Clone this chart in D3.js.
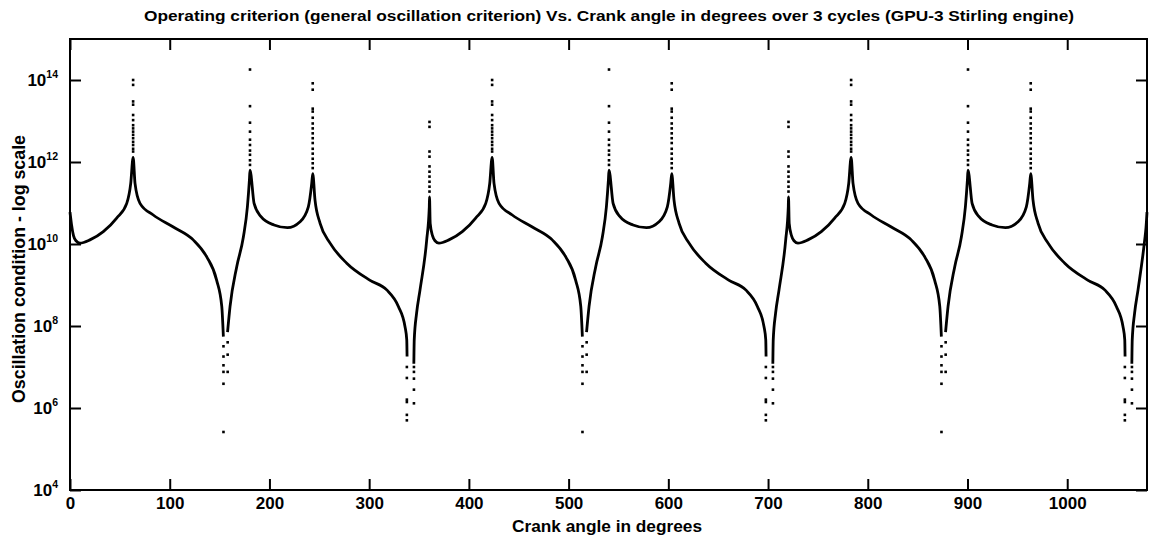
<!DOCTYPE html>
<html>
<head>
<meta charset="utf-8">
<script src="https://cdn.jsdelivr.net/npm/d3@7"></script>
<style>
  body { margin: 0; background: #fff; }
  text { font-family: "Liberation Sans", Arial, sans-serif; font-weight: bold; fill: #000; }
</style>
</head>
<body>
<script>
// solid part of the curve, null = gap at the singular points
const crankAngle = [
  0, 1.5, 3.5, 6, 10, 20, 33.4, 46.8, 56.9, 60.9, 63.3, 65.2, 70.2, 83.5, 103.6, 123.6, 137, 147.1, 152.2, 153.8, null,
  158, 160.5, 167.2, 173.9, 177.9, 179.9, 180.5, 184.6, 191.3, 204.6, 218, 230.7, 239, 242.4, 243.4, 245.7, 250.8, 260.8, 277.5, 300.9, 317.6, 329.3, 336, 337.7, 338, null,
  344.8, 345.2, 347.5, 351, 357.7, 360.3, 360.5, 361.2, 363.5, 366, 370, 380, 393.4, 406.8, 416.9, 420.9, 423.3, 425.2, 430.2, 443.5, 463.6, 483.6, 497, 507.1, 512.2, 513.8, null,
  518, 520.5, 527.2, 533.9, 537.9, 539.9, 540.5, 544.6, 551.3, 564.6, 578, 590.7, 599, 602.4, 603.4, 605.7, 610.8, 620.8, 637.5, 660.9, 677.6, 689.3, 696, 697.7, 698, null,
  704.8, 705.2, 707.5, 711, 717.7, 720.3, 720.5, 721.2, 723.5, 726, 730, 740, 753.4, 766.8, 776.9, 780.9, 783.3, 785.2, 790.2, 803.5, 823.6, 843.6, 857, 867.1, 872.2, 873.8, null,
  878, 880.5, 887.2, 893.9, 897.9, 899.9, 900.5, 904.6, 911.3, 924.6, 938, 950.7, 959, 962.4, 963.4, 965.7, 970.8, 980.8, 997.5, 1020.9, 1037.6, 1049.3, 1056, 1057.7, 1058, null,
  1064.8, 1065.2, 1067.5, 1071, 1077.7, 1079, 1080
];
const criterion = [
  6.0e10, 3.0e10, 1.6e10, 1.2e10, 1.05e10, 1.26e10, 2.0e10, 4.3e10, 9.8e10, 3.0e11, 1.3e12, 3.0e11, 9.8e10, 5.1e10, 2.6e10, 1.26e10, 4.9e9, 1.3e9, 3.0e8, 5.5e7, null,
  7.1e7, 3.0e8, 2.8e9, 1.5e10, 8.1e10, 3.6e11, 6.3e11, 9.8e10, 4.7e10, 2.9e10, 2.5e10, 3.5e10, 8.1e10, 3.0e11, 5.2e11, 1.17e11, 3.2e10, 1.05e10, 3.4e9, 1.3e9, 7.6e8, 3.0e8, 9.5e7, 4.6e7, 1.8e7, null,
  1.2e7, 4.6e7, 2.0e8, 7.6e8, 1.26e10, 8.1e10, 1.4e11, 3.2e10, 1.6e10, 1.2e10, 1.05e10, 1.26e10, 2.0e10, 4.3e10, 9.8e10, 3.0e11, 1.3e12, 3.0e11, 9.8e10, 5.1e10, 2.6e10, 1.26e10, 4.9e9, 1.3e9, 3.0e8, 5.5e7, null,
  7.1e7, 3.0e8, 2.8e9, 1.5e10, 8.1e10, 3.6e11, 6.3e11, 9.8e10, 4.7e10, 2.9e10, 2.5e10, 3.5e10, 8.1e10, 3.0e11, 5.2e11, 1.17e11, 3.2e10, 1.05e10, 3.4e9, 1.3e9, 7.6e8, 3.0e8, 9.5e7, 4.6e7, 1.8e7, null,
  1.2e7, 4.6e7, 2.0e8, 7.6e8, 1.26e10, 8.1e10, 1.4e11, 3.2e10, 1.6e10, 1.2e10, 1.05e10, 1.26e10, 2.0e10, 4.3e10, 9.8e10, 3.0e11, 1.3e12, 3.0e11, 9.8e10, 5.1e10, 2.6e10, 1.26e10, 4.9e9, 1.3e9, 3.0e8, 5.5e7, null,
  7.1e7, 3.0e8, 2.8e9, 1.5e10, 8.1e10, 3.6e11, 6.3e11, 9.8e10, 4.7e10, 2.9e10, 2.5e10, 3.5e10, 8.1e10, 3.0e11, 5.2e11, 1.17e11, 3.2e10, 1.05e10, 3.4e9, 1.3e9, 7.6e8, 3.0e8, 9.5e7, 4.6e7, 1.8e7, null,
  1.2e7, 4.6e7, 2.0e8, 7.6e8, 1.26e10, 2.5e10, 6.0e10
];

// sparse sample points near the peaks and dips
const peakNear63 = [1.8e12, 2.1e12, 2.6e12, 3.1e12, 3.8e12, 4.6e12, 5.5e12, 6.6e12, 7.9e12, 1.05e13, 1.4e13, 2.5e13, 3.0e13, 7.6e13, 1.0e14];
const peakNear180 = [8.5e11, 1.1e12, 1.5e12, 1.9e12, 2.6e12, 3.5e12, 5.5e12, 9.1e12, 2.3e13, 1.8e14];
const peakNear243 = [7.1e11, 9.3e11, 1.2e12, 1.6e12, 2.1e12, 2.9e12, 3.8e12, 5.0e12, 6.6e12, 8.7e12, 1.2e13, 1.7e13, 2.0e13, 5.8e13, 8.3e13];
const peakNear360 = [1.9e11, 2.5e11, 3.3e11, 4.4e11, 5.8e11, 7.8e11, 1.35e12, 1.8e12, 7.2e12, 9.5e12];
const dipLeft154 = [3.2e7, 1.8e7, 1.1e7, 7.6e6, 3.9e6, 2.6e5];
const dipRight158 = [4.0e7, 2.0e7, 7.6e6];
const dipLeft337 = [1.0e7, 5.4e6, 1.6e6, 1.4e6, 6.8e5, 5.0e5];
const dipRight345 = [1.0e7, 7.6e6, 5.2e6, 2.8e6, 1.3e6];

const spikeAngles = [63.3, 153.9, 158.1, 180.5, 243.4, 337.8, 344.9, 360.5,
                     423.3, 513.9, 518.1, 540.5, 603.4, 697.8, 704.9, 720.5,
                     783.3, 873.9, 878.1, 900.5, 963.4, 1057.8, 1064.9];
const spikeSets = [peakNear63, dipLeft154, dipRight158, peakNear180, peakNear243, dipLeft337, dipRight345, peakNear360,
                   peakNear63, dipLeft154, dipRight158, peakNear180, peakNear243, dipLeft337, dipRight345, peakNear360,
                   peakNear63, dipLeft154, dipRight158, peakNear180, peakNear243, dipLeft337, dipRight345];

const xTicks = [0, 100, 200, 300, 400, 500, 600, 700, 800, 900, 1000];
const yTickExponents = [4, 6, 8, 10, 12, 14];

const plotLeft = 70, plotRight = 1147, plotTop = 39, plotBottom = 490;

const svg = d3.select("body").append("svg")
    .attr("width", 1152)
    .attr("height", 540);

const x = d3.scaleLinear().domain([0, 1080]).range([plotLeft, plotRight]);
const y = d3.scaleLog().domain([1e4, 1e15]).range([plotBottom, plotTop]);

const curve = crankAngle.map((a, i) => [a, criterion[i]]);
const line = d3.line()
    .defined(d => d[0] !== null && d[1] !== null)
    .x(d => x(d[0]))
    .y(d => y(d[1]))
    .curve(d3.curveMonotoneX);

svg.append("path")
    .datum(curve)
    .attr("d", line)
    .attr("fill", "none")
    .attr("stroke", "#000")
    .attr("stroke-width", 2.8)
    .attr("stroke-linejoin", "round");

const dots = spikeAngles.flatMap((a, i) => spikeSets[i].map(v => [a, v]));
svg.append("g")
    .selectAll("rect")
    .data(dots)
    .enter()
    .append("rect")
    .attr("x", d => x(d[0]) - 1.3)
    .attr("y", d => y(d[1]) - 1.3)
    .attr("width", 2.6)
    .attr("height", 2.6)
    .attr("fill", "#000");

// axes, ticks pointing inwards on all four sides
const styleAxis = g => {
    g.select(".domain").remove();
    g.selectAll("line").attr("stroke", "#000").attr("stroke-width", 2);
    g.attr("font-family", null).attr("font-size", 17);
};

svg.append("g")
    .attr("transform", "translate(0," + plotBottom + ")")
    .call(d3.axisBottom(x).tickValues(xTicks).tickSizeInner(-11).tickSizeOuter(0).tickPadding(7).tickFormat(d3.format("d")))
    .call(styleAxis);

svg.append("g")
    .attr("transform", "translate(0," + plotTop + ")")
    .call(d3.axisTop(x).tickValues(xTicks).tickSizeInner(-11).tickSizeOuter(0).tickFormat(""))
    .call(styleAxis);

svg.append("g")
    .attr("transform", "translate(" + plotRight + ",0)")
    .call(d3.axisRight(y).tickValues(yTickExponents.map(e => Math.pow(10, e))).tickSizeInner(-11).tickSizeOuter(0).tickFormat(""))
    .call(styleAxis);

const yAxis = svg.append("g")
    .attr("transform", "translate(" + plotLeft + ",0)")
    .call(d3.axisLeft(y).tickValues(yTickExponents.map(e => Math.pow(10, e))).tickSizeInner(-11).tickSizeOuter(0).tickPadding(12).tickFormat(""))
    .call(styleAxis);

yAxis.selectAll(".tick text")
    .attr("dy", "0.35em")
    .each(function(d) {
        const t = d3.select(this);
        t.append("tspan").text("10");
        t.append("tspan").attr("dy", -8).attr("font-size", 10.5).text(Math.round(Math.log10(d)));
    });

svg.append("rect")
    .attr("x", plotLeft)
    .attr("y", plotTop)
    .attr("width", plotRight - plotLeft)
    .attr("height", plotBottom - plotTop)
    .attr("fill", "none")
    .attr("stroke", "#000")
    .attr("stroke-width", 2);

svg.append("text")
    .attr("text-anchor", "middle")
    .attr("x", 609)
    .attr("y", 21)
    .attr("font-size", 14.5)
    .attr("textLength", 930)
    .attr("lengthAdjust", "spacingAndGlyphs")
    .text("Operating criterion (general oscillation criterion) Vs. Crank angle in degrees over 3 cycles (GPU-3 Stirling engine)");

svg.append("text")
    .attr("text-anchor", "middle")
    .attr("x", 607)
    .attr("y", 532)
    .attr("font-size", 17)
    .attr("textLength", 190)
    .attr("lengthAdjust", "spacingAndGlyphs")
    .text("Crank angle in degrees");

svg.append("text")
    .attr("transform", "translate(25,269) rotate(-90)")
    .attr("text-anchor", "middle")
    .attr("font-size", 17.5)
    .attr("textLength", 268)
    .attr("lengthAdjust", "spacingAndGlyphs")
    .text("Oscillation condition - log scale");
</script>
</body>
</html>
